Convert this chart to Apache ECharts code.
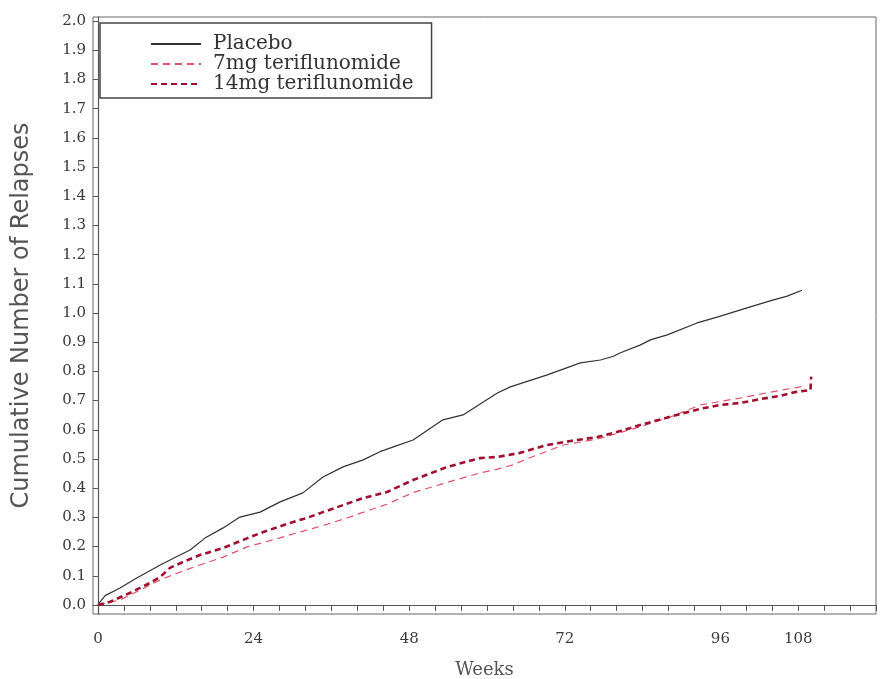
<!DOCTYPE html>
<html>
<head>
<meta charset="utf-8">
<script src="https://cdn.jsdelivr.net/npm/echarts@6/dist/echarts.min.js"></script>
<style>html,body{margin:0;padding:0;background:#fff}#c{width:880px;height:679px}</style>
</head>
<body>
<div id="c"></div>
<script>
const xTickLabels = [0, 24, 48, 72, 96, 108];
const yTickLabels = [0, 0.1, 0.2, 0.3, 0.4, 0.5, 0.6, 0.7, 0.8, 0.9, 1.0, 1.1, 1.2, 1.3, 1.4, 1.5, 1.6, 1.7, 1.8, 1.9, 2.0];
const xMinorTicks = [0,4,8,12,16,20,24,28,32,36,40,44,48,52,56,60,64,68,72,76,80,84,88,92,96,100,104,108,112,116,120];
const seriesNames = ['Placebo', '7mg teriflunomide', '14mg teriflunomide'];

const placeboWeeks = [0, 0.3, 1.1, 3.4, 5.7, 9.6, 12.1, 14.2, 16.5, 19.3, 21.9, 25.0, 28.1, 31.6, 34.7, 37.8, 40.9, 43.5, 46.0, 48.6, 53.2, 56.3, 61.6, 63.6, 69.3, 74.4, 77.5, 79.5, 80.5, 83.6, 85.2, 87.8, 92.4, 95.5, 100.6, 104.2, 106.3, 108.6];
const placeboValues = [0, 0.01, 0.032, 0.058, 0.089, 0.137, 0.165, 0.188, 0.229, 0.264, 0.301, 0.318, 0.353, 0.384, 0.438, 0.473, 0.497, 0.525, 0.545, 0.565, 0.634, 0.651, 0.726, 0.747, 0.788, 0.829, 0.839, 0.852, 0.863, 0.890, 0.908, 0.925, 0.966, 0.986, 1.021, 1.045, 1.058, 1.078];

const mg7Weeks = [0, 3.4, 6.5, 9.6, 12.7, 15.7, 19.3, 23.0, 27.0, 30.7, 34.7, 38.4, 41.5, 44.6, 48.6, 53.9, 58.9, 61.6, 64.0, 66.7, 71.8, 77.0, 83.6, 88.3, 92.9, 99.1, 103.7, 108.3, 109.2];
const mg7Values = [0, 0.017, 0.051, 0.086, 0.113, 0.137, 0.164, 0.199, 0.223, 0.247, 0.272, 0.298, 0.322, 0.345, 0.385, 0.420, 0.452, 0.465, 0.480, 0.505, 0.548, 0.568, 0.610, 0.644, 0.685, 0.709, 0.729, 0.747, 0.753];

const mg14Weeks = [0, 1.9, 4.9, 8.0, 9.6, 11.1, 13.1, 15.7, 19.3, 22.4, 25.5, 29.6, 32.2, 34.7, 37.8, 40.9, 44.6, 48.6, 53.9, 58.9, 61.6, 65.1, 69.3, 72.4, 77.0, 79.5, 83.6, 88.3, 92.9, 96.0, 99.1, 102.1, 105.2, 107.5, 109.9, 110.0];
const mg14Values = [0, 0.011, 0.041, 0.075, 0.096, 0.127, 0.147, 0.171, 0.195, 0.223, 0.250, 0.281, 0.298, 0.318, 0.342, 0.366, 0.387, 0.428, 0.473, 0.503, 0.507, 0.521, 0.548, 0.560, 0.575, 0.589, 0.616, 0.645, 0.672, 0.685, 0.692, 0.705, 0.716, 0.729, 0.736, 0.782];

function pairs(xs, ys) { return xs.map((x, i) => [x, ys[i]]); }

const chart = echarts.init(document.getElementById('c'), null, {renderer: 'canvas'});
const tickFont = {fontFamily: 'DejaVu Serif', fontSize: 15, color: '#3a3a3a'};
chart.setOption({
  animation: false,
  backgroundColor: '#fff',
  grid: {left: 93, right: 4, top: 17, bottom: 65, show: true, borderColor: '#666', borderWidth: 1,
         containLabel: false, outerBoundsMode: 'none'},
  legend: {
    orient: 'vertical', left: 100, top: 23,
    padding: [11, 18, 4, 50],
    itemWidth: 50, itemHeight: 14, itemGap: 0,
    borderColor: '#444', borderWidth: 1.5,
    itemStyle: {opacity: 0},
    textStyle: {fontFamily: 'DejaVu Serif', fontSize: 20, lineHeight: 20, color: '#333', padding: [0, 0, 0, 7]},
    data: seriesNames
  },
  xAxis: {
    type: 'value', min: -0.77, max: 120,
    name: 'Weeks', nameLocation: 'middle', nameGap: 47,
    nameTextStyle: {fontFamily: 'DejaVu Serif', fontSize: 18, color: '#555'},
    axisLine: {show: true, lineStyle: {color: '#555', width: 1.2}},
    axisTick: {show: true, length: 6, customValues: xMinorTicks, lineStyle: {color: '#555'}},
    axisLabel: {customValues: xTickLabels, margin: 18, ...tickFont},
    splitLine: {show: false}
  },
  yAxis: {
    type: 'value', min: -0.031, max: 2.014,
    name: 'Cumulative Number of Relapses', nameLocation: 'middle', nameGap: 59, nameRotate: 90,
    nameTextStyle: {fontFamily: 'DejaVu Sans', fontSize: 24, color: '#555'},
    axisLine: {show: true, lineStyle: {color: '#555', width: 1.2}},
    axisTick: {show: true, length: 5, customValues: yTickLabels, lineStyle: {color: '#555'}},
    axisLabel: {customValues: yTickLabels, margin: 7, formatter: v => v.toFixed(1), ...tickFont},
    splitLine: {show: false}
  },
  series: [
    {name: seriesNames[0], type: 'line', symbol: 'none', data: pairs(placeboWeeks, placeboValues),
     lineStyle: {color: '#333', width: 1.2, type: 'solid'}, itemStyle: {color: '#333'}},
    {name: seriesNames[1], type: 'line', symbol: 'none', data: pairs(mg7Weeks, mg7Values),
     lineStyle: {color: '#e0506a', width: 1.2, type: [7, 5]}, itemStyle: {color: '#e0506a'}},
    {name: seriesNames[2], type: 'line', symbol: 'none', data: pairs(mg14Weeks, mg14Values), z: 3,
     lineStyle: {color: '#a0102e', width: 2.6, type: [6, 4]}, itemStyle: {color: '#a0102e'}}
  ]
});
</script>
</body>
</html>
